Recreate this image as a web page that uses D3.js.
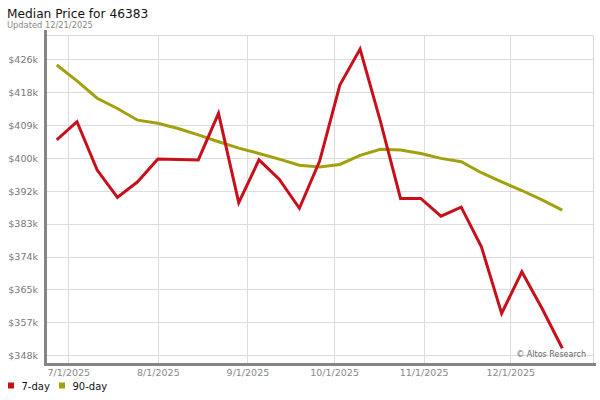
<!DOCTYPE html>
<html>
<head>
<meta charset="utf-8">
<script src="https://cdn.jsdelivr.net/npm/d3@7"></script>
<style>
  html, body { margin: 0; padding: 0; background: #fff; }
  svg { display: block; font-family: "DejaVu Sans", Verdana, sans-serif; }
</style>
</head>
<body>
<svg id="chart" width="600" height="400"></svg>
<script>
// ---- data ----
const dates = [
  "2025-06-27","2025-07-04","2025-07-11","2025-07-18","2025-07-25",
  "2025-08-01","2025-08-08","2025-08-15","2025-08-22","2025-08-29",
  "2025-09-05","2025-09-12","2025-09-19","2025-09-26","2025-10-03",
  "2025-10-10","2025-10-17","2025-10-24","2025-10-31","2025-11-07",
  "2025-11-14","2025-11-21","2025-11-28","2025-12-05","2025-12-12",
  "2025-12-19"
];
const sevenDay = [
  405000, 409800, 397000, 389800, 393900,
  399900, 399800, 399700, 412000, 388400,
  399700, 394600, 386900, 399400, 419500,
  429000, 410000, 389500, 389500, 384800,
  387200, 376700, 359100, 370100, 360400,
  349900
];
const ninetyDay = [
  424800, 420600, 416000, 413300, 410200,
  409400, 408000, 406300, 404500, 402800,
  401400, 399900, 398300, 397800, 398500,
  400900, 402500, 402300, 401400, 400100,
  399200, 396300, 393900, 391600, 389100,
  386400
];
const yTickValues = [348050, 356750, 365450, 374150, 382850, 391550, 400250, 408950, 417650, 426350];
const yTickLabels = ["$348k","$357k","$365k","$374k","$383k","$392k","$400k","$409k","$418k","$426k"];
const xTickDates = ["2025-07-01","2025-08-01","2025-09-01","2025-10-01","2025-11-01","2025-12-01"];
const xTickLabels = ["7/1/2025","8/1/2025","9/1/2025","10/1/2025","11/1/2025","12/1/2025"];
const seriesNames = ["7-day", "90-day"];
const seriesColors = ["#c8101a", "#a3a00e"];

// ---- layout ----
const svg = d3.select("#chart");
const plot = { left: 46, right: 593.5, top: 35.5, bottom: 364.5 };
const parse = d3.utcParse("%Y-%m-%d");

const x = d3.scaleUtc()
  .domain([parse("2025-07-01"), parse("2025-12-01")])
  .range([68.3, 510.3]);
const y = d3.scaleLinear()
  .domain([348050, 426350])
  .range([355.2, 59.1]);

// title
svg.append("text").attr("x", 7).attr("y", 17.6)
  .attr("font-size", 12.2).attr("fill", "#111")
  .text("Median Price for 46383");
svg.append("text").attr("x", 7).attr("y", 28.3)
  .attr("font-size", 8.3).attr("fill", "#888")
  .text("Updated 12/21/2025");

// plot frame (top/right light border)
svg.append("path")
  .attr("d", `M${plot.left},${plot.top}H${plot.right}V${plot.bottom}`)
  .attr("fill", "none").attr("stroke", "#d8d8d8").attr("stroke-width", 1);

// horizontal grid
const yAxis = d3.axisLeft(y).tickValues(yTickValues)
  .tickFormat((d, i) => yTickLabels[i]).tickSize(0).tickPadding(0);
const gy = svg.append("g").attr("transform", `translate(${plot.left},0)`);
gy.selectAll("line.grid").data(yTickValues).join("line")
  .attr("class", "grid")
  .attr("x1", 0).attr("x2", plot.right - plot.left)
  .attr("y1", d => Math.round(y(d)) + 0.5).attr("y2", d => Math.round(y(d)) + 0.5)
  .attr("stroke", "#dcdcdc").attr("stroke-width", 1);
const gyAxis = svg.append("g").attr("transform", `translate(38,0)`).call(yAxis);
gyAxis.select(".domain").remove();
gyAxis.selectAll("text").attr("font-size", 9.5).attr("fill", "#777")
  .attr("font-family", "DejaVu Sans, sans-serif").attr("x", 0).attr("dy", "0.35em");

// vertical grid
const xDates = xTickDates.map(parse);
svg.append("g").selectAll("line").data(xDates).join("line")
  .attr("x1", d => Math.round(x(d)) + 0.5).attr("x2", d => Math.round(x(d)) + 0.5)
  .attr("y1", plot.top).attr("y2", plot.bottom)
  .attr("stroke", "#dcdcdc").attr("stroke-width", 1);

const xAxis = d3.axisBottom(x).tickValues(xDates)
  .tickFormat((d, i) => xTickLabels[i]).tickSize(0).tickPadding(0);
const gx = svg.append("g").attr("transform", `translate(0,369)`).call(xAxis);
gx.select(".domain").remove();
gx.selectAll("text").attr("font-size", 9.5).attr("fill", "#888")
  .attr("font-family", "DejaVu Sans, sans-serif");

// watermark
svg.append("text").attr("x", 586).attr("y", 357).attr("text-anchor", "end")
  .attr("font-size", 8).attr("fill", "#666").text("\u00a9 Altos Research");

// axis bars
svg.append("line").attr("x1", 45.5).attr("x2", 45.5).attr("y1", 30).attr("y2", 366)
  .attr("stroke", "#858585").attr("stroke-width", 3);
svg.append("line").attr("x1", 44).attr("x2", 596).attr("y1", 364.5).attr("y2", 364.5)
  .attr("stroke", "#858585").attr("stroke-width", 3);

// lines
const pts = dates.map(parse);
const line = d3.line().x((d, i) => x(pts[i])).y(d => y(d));
[ninetyDay, sevenDay].forEach((s, k) => {
  svg.append("path").datum(s)
    .attr("d", line)
    .attr("fill", "none")
    .attr("stroke", seriesColors[1 - k])
    .attr("stroke-width", 3)
    .attr("stroke-linejoin", "miter")
    .attr("stroke-linecap", "butt");
});

// legend
const legX = [8, 59];
seriesNames.forEach((n, i) => {
  svg.append("rect").attr("x", legX[i]).attr("y", 382.5).attr("width", 6).attr("height", 6)
    .attr("fill", seriesColors[i]);
  svg.append("text").attr("x", legX[i] + 13.5).attr("y", 390)
    .attr("font-size", 10).attr("fill", "#111").text(n);
});
</script>
</body>
</html>
